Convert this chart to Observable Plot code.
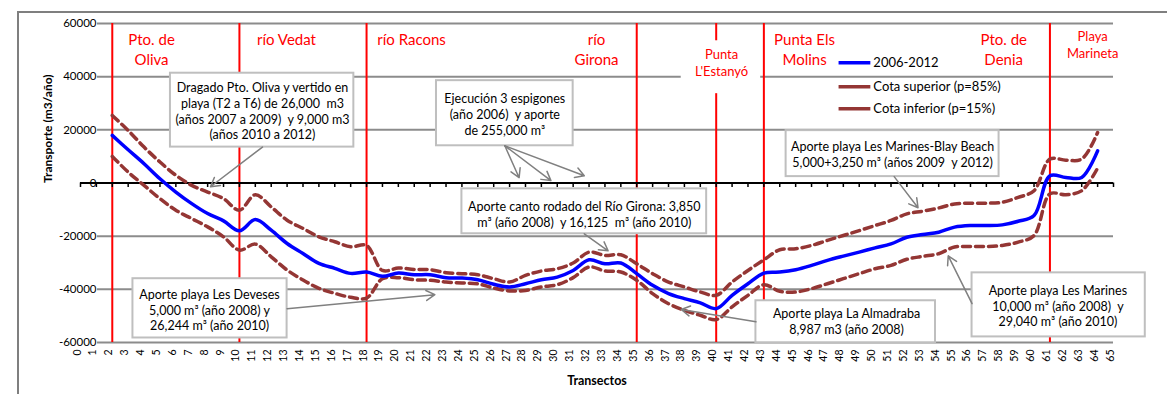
<!DOCTYPE html>
<html>
<head>
<meta charset="utf-8">
<script src="https://cdn.jsdelivr.net/npm/d3@7"></script>
<script src="https://cdn.jsdelivr.net/npm/@observablehq/plot@0.6"></script>
<style>
  html, body { margin: 0; padding: 0; background: #fff; }
  #wrap { position: relative; width: 1167px; height: 394px; overflow: hidden; }
  #frame { position: absolute; left: 17px; top: 11px; width: 1200px; height: 420px;
           border-left: 2px solid #7f7f7f; border-top: 2px solid #7f7f7f; }
  #chart { position: absolute; left: 0; top: 0; }
</style>
</head>
<body>
<div id="wrap"><div id="frame"></div><div id="chart"></div></div>
<script>
// ---- data ----
const transects = [2,3,4,5,6,7,8,9,10,11,12,13,14,15,16,17,18,19,20,21,22,23,24,25,26,27,28,29,30,31,32,33,34,35,36,37,38,39,40,41,42,43,44,45,46,47,48,49,50,51,52,53,54,55,56,57,58,59,60,61,62,63,64];
const media = [17900,12500,7250,1600,-3400,-7750,-11500,-14250,-18000,-13750,-17750,-22750,-26500,-30250,-32100,-34000,-33500,-35100,-33900,-34500,-34500,-35600,-35750,-36400,-38100,-39100,-37900,-36400,-35400,-32900,-28900,-30400,-30100,-34100,-38500,-41600,-43500,-45100,-47250,-42250,-37900,-33900,-33500,-32600,-31000,-29100,-27500,-26000,-24400,-22900,-20400,-19400,-18500,-16600,-16000,-16000,-15750,-14400,-12250,2750,2100,2100,12100];
const cotaSup = [25400,19750,13500,7900,2900,-900,-3400,-5900,-10250,-4400,-9000,-14000,-17100,-20250,-22100,-24000,-23500,-32900,-32000,-32500,-32600,-33750,-34100,-34500,-36000,-37250,-34750,-33100,-32250,-30100,-26000,-27250,-27000,-30400,-34100,-37250,-39100,-41000,-42250,-37250,-32900,-28900,-25100,-24750,-23500,-21600,-19750,-17900,-16000,-14100,-11600,-10600,-9400,-7900,-7600,-7600,-7250,-5400,-2900,9000,8600,9000,19000];
const cotaInf = [10000,4100,-900,-5900,-10250,-13400,-16500,-20250,-25250,-23000,-27750,-32750,-36500,-39600,-41500,-43000,-43300,-36000,-35600,-36400,-36600,-37250,-37600,-37900,-39500,-40600,-40400,-39100,-38250,-35600,-31600,-33100,-33500,-36600,-41600,-45400,-47900,-49750,-51400,-46600,-42250,-38250,-40750,-41000,-39750,-37900,-36000,-34100,-32250,-31000,-28700,-27600,-26600,-24100,-23900,-23900,-23500,-22250,-19750,-4100,-4400,-2900,5600];
const seriesNames = ["2006-2012", "Cota superior (p=85%)", "Cota inferior (p=15%)"];
const yTicks = [60000, 40000, 20000, 0, -20000, -40000, -60000];
const xTicks = d3.range(0, 66);
const boundaries = [2, 10, 18, 35, 40, 43, 61];

// region labels (red)
const regionLabels = [
  {t: 4.47, v: 50500, text: "Pto. de\nOliva", size: 15},
  {t: 12.96, v: 54300, text: "río Vedat", size: 15},
  {t: 20.83, v: 54300, text: "río Racons", size: 15},
  {t: 32.47, v: 50500, text: "río\nGirona", size: 15},
  {t: 40.34, v: 45600, text: "Punta\nL'Estanyó", size: 13},
  {t: 45.56, v: 50500, text: "Punta Els\nMolins", size: 15},
  {t: 58.09, v: 50500, text: "Pto. de\nDenia", size: 15},
  {t: 63.69, v: 52200, text: "Playa\nMarineta", size: 13}
];
const labelMask = [{t1: 37.8, t2: 42.8, v1: 33600, v2: 53500}];

// annotation boxes
const notes = [
  {t1: 5.66, t2: 17.2, v1: 13500, v2: 41300, tc: 11.45, vc: 27200,
   text: "Dragado Pto. Oliva y vertido en\nplaya (T2 a T6) de 26,000  m3\n(años 2007 a 2009)  y 9,000 m3\n(años 2010 a 2012)"},
  {t1: 22.4, t2: 31.0, v1: 14000, v2: 38500, tc: 26.7, vc: 26000,
   text: "Ejecución 3 espigones\n(año 2006)  y aporte\nde 255,000 m³"},
  {t1: 24.0, t2: 39.4, v1: -19100, v2: -2200, tc: 31.7, vc: -11600,
   text: "Aporte canto rodado del Río Girona: 3,850\nm³ (año 2008)  y 16,125  m³ (año 2010)"},
  {t1: 3.3, t2: 13.0, v1: -58300, v2: -36000, tc: 8.12, vc: -47700,
   text: "Aporte playa Les Deveses\n5,000 m³ (año 2008) y\n26,244 m³ (año 2010)"},
  {t1: 42.5, t2: 53.8, v1: -60100, v2: -44300, tc: 48.2, vc: -52000,
   text: "Aporte playa La Almadraba\n8,987 m3 (año 2008)"},
  {t1: 44.4, t2: 57.8, v1: 2400, v2: 19700, tc: 51.1, vc: 10800,
   text: "Aporte playa Les Marines-Blay Beach\n5,000+3,250 m³ (años 2009  y 2012)"},
  {t1: 56.1, t2: 67.0, v1: -57900, v2: -33800, tc: 61.5, vc: -46100,
   text: "Aporte playa Les Marines\n10,000 m³ (año 2008)  y\n29,040 m³ (año 2010)"}
];
const arrows = [
  {t1: 11.45, v1: 13500, t2: 8.18, v2: -1400},
  {t1: 26.7, v1: 14000, t2: 27.6, v2: 2000},
  {t1: 26.7, v1: 14000, t2: 29.6, v2: 900},
  {t1: 26.7, v1: 14000, t2: 31.7, v2: 2700},
  {t1: 31.7, v1: -19100, t2: 33.2, v2: -25500},
  {t1: 13.0, v1: -47300, t2: 22.3, v2: -42000},
  {t1: 42.5, v1: -52200, t2: 37.8, v2: -47600},
  {t1: 51.2, v1: 2400, t2: 52.7, v2: -9300},
  {t1: 56.1, v1: -45400, t2: 54.6, v2: -27400}
];

// legend
const legendRows = [
  {name: seriesNames[0], t1: 47.7, t2: 49.7, v: 45200},
  {name: seriesNames[1], t1: 47.7, t2: 49.7, v: 36200},
  {name: seriesNames[2], t1: 47.7, t2: 49.7, v: 27900}
];

// ---- build ----
const rows = [];
[media, cotaSup, cotaInf].forEach((arr, i) => {
  arr.forEach((v, j) => rows.push({t: transects[j], v, s: seriesNames[i]}));
});
const colorOf = s => s === seriesNames[0] ? "#0000ff" : "#943634";
const dashOf = s => s === seriesNames[0] ? null : "8,5";

const chart = Plot.plot({
  width: 1167,
  height: 394,
  marginLeft: 80,
  marginRight: 54,
  marginTop: 23,
  marginBottom: 52,
  x: {domain: [0, 65], axis: null},
  y: {domain: [-60000, 60000], axis: null},
  style: {fontFamily: "Lato, 'Open Sans', sans-serif", background: "transparent", overflow: "visible"},
  marks: [
    Plot.gridY(yTicks.filter(d => d !== 0), {insetLeft: 17, stroke: "#8c8c8c", strokeOpacity: 1, strokeWidth: 2}),
    Plot.ruleX(boundaries, {x: d => d, stroke: "#ff0000", strokeWidth: 2}),
    Plot.rect(labelMask, {x1: "t1", x2: "t2", y1: "v1", y2: "v2", fill: "white"}),
    Plot.ruleY([0], {x1: 0, x2: 65, stroke: "black", strokeWidth: 2}),
    Plot.ruleX(xTicks, {x: d => d, y1: 0, y2: -1700, stroke: "black", strokeWidth: 1.5}),
    Plot.text(yTicks, {y: d => d, text: d => String(d), frameAnchor: "left", textAnchor: "end", dx: 16, fontSize: 11.5, fill: "#000"}),
    Plot.text(xTicks, {x: d => d, text: d => String(d), frameAnchor: "bottom", rotate: -90, textAnchor: "end", dy: 7, fontSize: 10.5, fill: "#000"}),
    Plot.text(["Transporte (m3/año)"], {frameAnchor: "left", rotate: -90, dx: -32, fontWeight: "bold", fontSize: 12, fill: "#000"}),
    Plot.text(["Transectos"], {frameAnchor: "bottom", dy: 42, fontWeight: "bold", fontSize: 12.5, fill: "#000"}),
    Plot.text(regionLabels, {x: "t", y: "v", text: "text", fill: "#ff0000", fontSize: d => d.size, lineHeight: 1.3}),
    Plot.line(rows.filter(d => d.s !== seriesNames[0]), {x: "t", y: "v", z: "s", stroke: "#943634", strokeWidth: 3.5, strokeDasharray: "8,5", curve: "catmull-rom"}),
    Plot.line(rows.filter(d => d.s === seriesNames[0]), {x: "t", y: "v", stroke: "#0000ff", strokeWidth: 3.5, curve: "catmull-rom"}),
    Plot.link(legendRows, {x1: "t1", x2: "t2", y1: "v", y2: "v", stroke: d => colorOf(d.name), strokeDasharray: d => dashOf(d.name), strokeWidth: 3.5}),
    Plot.text(legendRows, {x: "t2", y: "v", text: "name", textAnchor: "start", dx: 3, fontSize: 13, fill: "#000"}),
    Plot.rect(notes, {x1: "t1", x2: "t2", y1: "v1", y2: "v2", fill: "white", stroke: "#bfbfbf", strokeWidth: 2}),
    Plot.text(notes, {x: "tc", y: "vc", text: "text", fontSize: 12.5, lineHeight: 1.25, fill: "#000"}),
    Plot.arrow(arrows, {x1: "t1", y1: "v1", x2: "t2", y2: "v2", stroke: "#808080", strokeWidth: 1.5, headLength: 10})
  ]
});
document.getElementById("chart").appendChild(chart);
</script>
</body>
</html>
